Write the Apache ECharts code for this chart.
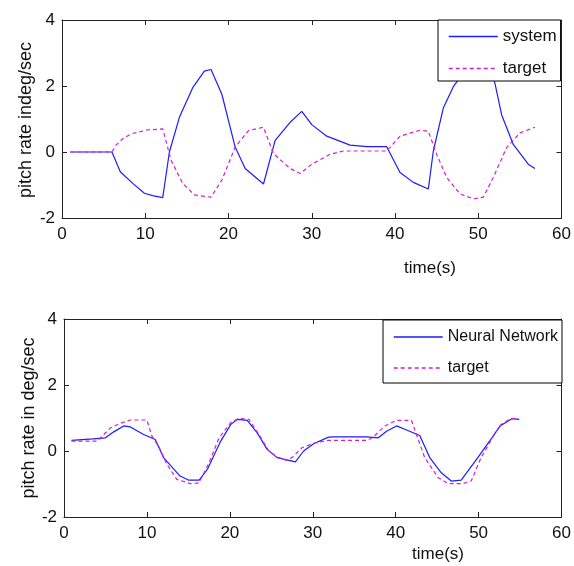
<!DOCTYPE html>
<html>
<head>
<meta charset="utf-8">
<script src="https://cdn.jsdelivr.net/npm/echarts@6/dist/echarts.min.js"></script>
<style>html,body{margin:0;padding:0;background:#fff;}#c{width:574px;height:566px;}</style>
</head>
<body>
<div id="c"></div>
<script>
// ---- data (time in s, pitch rate in deg/sec) ----
const topSystem = [[1,0],[6,0],[7,-0.6],[8.5,-0.95],[9.9,-1.25],[11,-1.33],[12.1,-1.38],[12.9,0],[14.1,1.05],[15.7,1.95],[17.1,2.45],[17.9,2.5],[19.2,1.75],[20.8,0.15],[22,-0.5],[24.2,-0.97],[25.6,0.35],[27.4,0.9],[28.8,1.23],[30,0.83],[31.8,0.48],[34.6,0.21],[36.6,0.16],[39,0.16],[40.6,-0.62],[42.2,-0.92],[44,-1.12],[44.6,0.03],[45.8,1.33],[47,1.98],[48.5,2.5],[50,2.6],[51.5,2.5],[52,2.08],[52.8,1.13],[54.2,0.23],[56,-0.37],[56.8,-0.5]];
const topTarget = [[1,0],[6,0],[6.45,0.2],[7.3,0.4],[8.3,0.55],[10.3,0.67],[12.1,0.7],[13.1,-0.25],[14.5,-0.95],[15.9,-1.3],[17.9,-1.37],[19.2,-0.85],[20.8,0.15],[22.4,0.65],[24.2,0.75],[25.4,-0.05],[27.4,-0.5],[28.6,-0.65],[30,-0.37],[32.2,-0.07],[33.8,0.03],[39,0.03],[40.6,0.48],[43,0.66],[44,0.63],[45,-0.07],[46.2,-0.77],[47.8,-1.27],[49.4,-1.42],[50.6,-1.37],[51.8,-0.77],[53.4,0.13],[55,0.58],[56.8,0.75]];
const botNN = [[0.9,0.32],[3.5,0.37],[5,0.4],[6,0.58],[7.2,0.76],[8,0.73],[9.6,0.5],[11,0.35],[12,-0.2],[14,-0.76],[15,-0.88],[16.3,-0.88],[17.3,-0.55],[18.9,0.3],[20.1,0.8],[20.9,0.96],[22.1,0.93],[23.3,0.55],[24.5,0.05],[25.7,-0.2],[27.9,-0.33],[28.9,0],[30.1,0.22],[31.9,0.42],[32.5,0.43],[36.5,0.43],[37.9,0.4],[38.9,0.6],[40.1,0.76],[41.1,0.66],[42.9,0.47],[44.1,-0.2],[45.5,-0.66],[46.7,-0.91],[47.9,-0.88],[49.9,-0.2],[51.6,0.4],[52.6,0.76],[54,0.98],[54.9,0.96]];
const botTarget = [[0.9,0.3],[4,0.3],[5.6,0.7],[6.8,0.84],[8,0.94],[10,0.94],[10.6,0.45],[11.4,0.15],[12.4,-0.4],[13.6,-0.86],[15.4,-1.0],[16.3,-0.96],[17.5,-0.35],[18.7,0.4],[20.1,0.86],[21.1,0.99],[22.3,0.96],[23.5,0.5],[24.7,0],[25.7,-0.18],[26.8,-0.28],[27.5,-0.2],[28.7,0.1],[30.3,0.25],[31.9,0.32],[36.5,0.32],[37.2,0.4],[38.7,0.76],[40.1,0.93],[41.9,0.93],[42.5,0.5],[43.5,-0.2],[45.1,-0.8],[46.3,-0.99],[48.1,-0.99],[49.1,-0.91],[50.3,-0.2],[51.9,0.5],[52.7,0.8],[53.9,0.99],[54.7,0.98]];
const xTicks = {min: 0, max: 60, interval: 10};
const yTicks = {min: -2, max: 4, interval: 2};
const yTitleTop = 'pitch rate indeg/sec';
const yTitleBot = 'pitch rate in deg/sec';
const xTitle = 'time(s)';

const FONT = '"Liberation Sans", Arial, sans-serif';
const BLUE = '#1c1cff';
const MAG = '#d41ed4';
const AX = '#222';

function xAx(grid, pos, labels) {
  return {type:'value', gridIndex:grid, position:pos, min:xTicks.min, max:xTicks.max, interval:xTicks.interval,
    axisLine:{show:true, onZero:false, lineStyle:{color:AX, width:1}},
    axisTick:{show:true, inside:true, length:5, lineStyle:{color:AX}},
    axisLabel:{show:labels, color:'#111', fontSize:17, fontFamily:FONT, margin:8},
    splitLine:{show:false}};
}
function yAx(grid, pos, labels) {
  return {type:'value', gridIndex:grid, position:pos, min:yTicks.min, max:yTicks.max, interval:yTicks.interval,
    axisLine:{show:true, onZero:false, lineStyle:{color:AX, width:1}},
    axisTick:{show:true, inside:true, length:5, lineStyle:{color:AX}},
    axisLabel:{show:labels, color:'#111', fontSize:17, fontFamily:FONT, margin:7},
    splitLine:{show:false}};
}
function ser(name, data, xi, yi, color, dashed) {
  return {type:'line', name:name, data:data, xAxisIndex:xi, yAxisIndex:yi, symbol:'none', smooth:false,
    animation:false, lineStyle:{color:color, width:1.2, type: dashed ? [4,3] : 'solid'}, itemStyle:{color:color}};
}
function legend(names, left, top, pad, fs) {
  return {data:names, orient:'vertical', left:left, top:top, padding:pad, itemGap:15, itemWidth:49, itemHeight:14,
    borderColor:'#000', borderWidth:1, backgroundColor:'#fff', borderRadius:0,
    itemStyle:{opacity:0}, lineStyle:{width:1.5},
    textStyle:{fontSize:fs, fontFamily:FONT, color:'#111'}, selectedMode:false};
}
function txt(x, y, s, rot, fs) {
  return {type:'text', x:x, y:y, rotation:rot, style:{text:s, fontSize:fs, fontFamily:FONT, fill:'#111', textAlign:'center', textVerticalAlign:'middle'}};
}

const chart = echarts.init(document.getElementById('c'), null, {renderer:'canvas'});
chart.setOption({
  backgroundColor:'#fff',
  animation:false,
  grid:[{left:62, top:20, width:501, height:198}, {left:64, top:319, width:500, height:198}],
  xAxis:[xAx(0,'bottom',true), xAx(0,'top',false), xAx(1,'bottom',true), xAx(1,'top',false)],
  yAxis:[yAx(0,'left',true), yAx(0,'right',false), yAx(1,'left',true), yAx(1,'right',false)],
  legend:[legend(['system','target'], 438, 20, [8,4,4,10], 17), legend(['Neural Network','target'], 383, 320, [9,4,7,10], 16)],
  series:[
    ser('system', topSystem, 0, 0, BLUE, false),
    ser('target', topTarget, 0, 0, MAG, true),
    ser('Neural Network', botNN, 2, 2, BLUE, false),
    ser('target', botTarget, 2, 2, MAG, true)
  ],
  graphic:[
    txt(430, 268, xTitle, 0, 17),
    txt(438, 554, xTitle, 0, 17),
    txt(26, 120, yTitleTop, Math.PI/2, 18),
    txt(29, 418, yTitleBot, Math.PI/2, 18)
  ]
});
</script>
</body>
</html>
